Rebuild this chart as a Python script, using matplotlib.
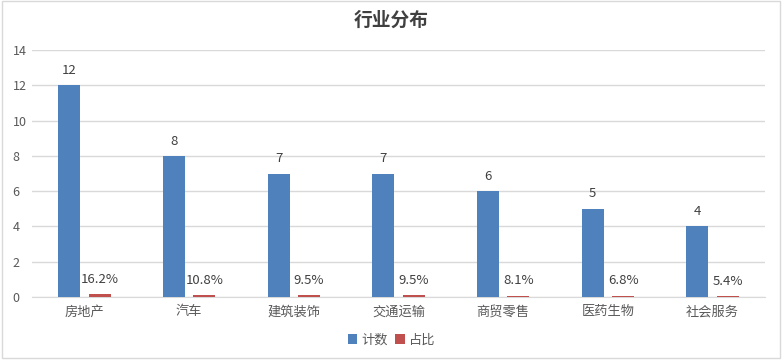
import matplotlib
matplotlib.use("Agg")
import matplotlib.pyplot as plt
import numpy as np
from matplotlib.patches import Rectangle

plt.rcParams['font.family'] = ['Noto Sans CJK SC', 'DejaVu Sans']

categories = ["房地产", "汽车", "建筑装饰", "交通运输", "商贸零售", "医药生物", "社会服务"]
counts = [12, 8, 7, 7, 6, 5, 4]
shares = [0.162, 0.108, 0.095, 0.095, 0.081, 0.068, 0.054]
y_ticks = [0, 2, 4, 6, 8, 10, 12, 14]

blue = "#4f81bd"
red = "#c0504d"
txt = "#404040"

fig = plt.figure(figsize=(7.83, 3.6), dpi=100)
ax = fig.add_axes([32/783, 1-297/360, (765-32)/783, (297-50)/360])

x = np.arange(len(categories))
w = 0.21
off = 0.145
b1 = ax.bar(x - off, counts, w, color=blue, label="计数", zorder=3)
b2 = ax.bar(x + off, shares, w, color=red, label="占比", zorder=3)

for xi, v in zip(x, counts):
    ax.annotate(f"{v}", (xi - off, v), xytext=(0, 6), textcoords="offset points",
                ha="center", va="bottom", fontsize=9.5, color=txt)
for xi, v in zip(x, shares):
    ax.annotate(f"{v*100:.1f}%", (xi + off, v), xytext=(0, 6), textcoords="offset points",
                ha="center", va="bottom", fontsize=9.5, color=txt)

ax.set_xlim(-0.5, len(categories) - 0.5)
ax.set_ylim(0, 14)
ax.set_yticks(y_ticks)
ax.set_xticks(x)
ax.set_xticklabels(categories)
ax.tick_params(axis='both', length=0, colors="#595959", labelsize=9)
ax.tick_params(axis='x', pad=6, labelsize=9.5)
ax.tick_params(axis='y', pad=14)
for lab in ax.get_yticklabels():
    lab.set_horizontalalignment('left')
ax.yaxis.grid(True, color="#d9d9d9", linewidth=1, zorder=0)
ax.set_axisbelow(True)
for s in ["left", "right", "top"]:
    ax.spines[s].set_visible(False)
ax.spines["bottom"].set_color("#d9d9d9")

fig.text(0.5, 1-20/360, "行业分布", ha="center", va="center", fontsize=13.5,
         fontweight="bold", color="#404040")

leg = fig.legend(handles=[b1, b2], loc="center", bbox_to_anchor=(0.5, 1-340/360), ncol=2,
                 frameon=False, fontsize=9.5, handlelength=0.7, handleheight=0.7,
                 handletextpad=0.3, columnspacing=0.6)
for t in leg.get_texts():
    t.set_color("#595959")

fig.patches.append(Rectangle((0.003, 0.006), 0.993, 0.99, transform=fig.transFigure,
                             fill=False, edgecolor="#d9d9d9", linewidth=1))

fig.savefig("out.png", dpi=100)
